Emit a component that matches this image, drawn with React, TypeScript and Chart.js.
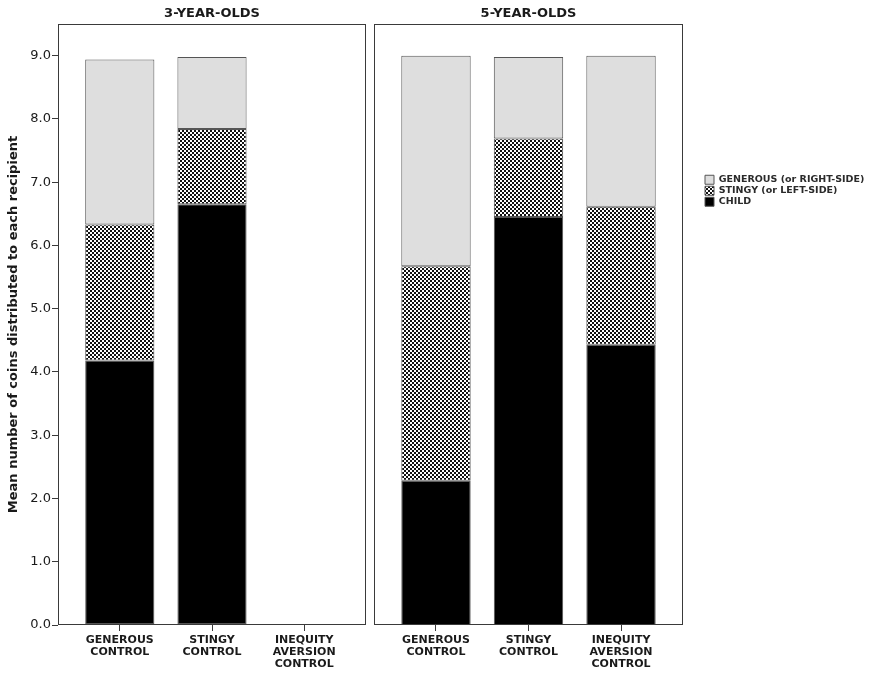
import React, { useEffect, useRef } from "react";
import { Chart, registerables } from "chart.js";

Chart.register(...registerables);
Chart.defaults.font.family = "'DejaVu Sans', sans-serif";
Chart.defaults.color = "#1a1a1a";

// categories (x positions 1..3 on a linear axis so the side padding matches the panels)
const CATEGORY_X = [1, 2, 3];
const CATEGORY_LABELS = [
  ["GENEROUS", "CONTROL"],
  ["STINGY", "CONTROL"],
  ["INEQUITY", "AVERSION", "CONTROL"],
];
const SERIES_NAMES = ["CHILD", "STINGY (or LEFT-SIDE)", "GENEROUS (or RIGHT-SIDE)"];

// 3-year-olds (no inequity aversion condition)
const CHILD_3 = [4.18, 6.65, null];
const STINGY_3 = [2.15, 1.19, null];
const GENEROUS_3 = [2.61, 1.14, null];

// 5-year-olds
const CHILD_5 = [2.28, 6.45, 4.43];
const STINGY_5 = [3.39, 1.24, 2.18];
const GENEROUS_5 = [3.33, 1.29, 2.39];

const Y_MAX = 9.5;
const Y_STEP = 1;

const INK = "#1a1a1a";
const LINE = "#3a3a3a";

function checker(): CanvasPattern | string {
  const c = document.createElement("canvas");
  c.width = 4;
  c.height = 4;
  const g = c.getContext("2d");
  if (!g) return "#777";
  g.fillStyle = "#ffffff";
  g.fillRect(0, 0, 4, 4);
  g.fillStyle = "#111111";
  g.fillRect(0, 0, 2, 2);
  g.fillRect(2, 2, 2, 2);
  return g.createPattern(c, "repeat") || "#777";
}

// frame around the plot area (both panels are boxed)
const panelFrame = {
  id: "panelFrame",
  afterDatasetsDraw(chart: any) {
    const { ctx, chartArea: a } = chart;
    ctx.save();
    ctx.strokeStyle = LINE;
    ctx.lineWidth = 1;
    ctx.strokeRect(a.left + 0.5, a.top + 0.5, a.right - a.left - 1, a.bottom - a.top - 1);
    ctx.restore();
  },
};

// put the legend box where the original has it (right of the 5-year panel)
const legendMover = {
  id: "legendMover",
  afterLayout(chart: any, _args: any, opts: any) {
    const lg = chart.legend;
    if (!lg || !opts || opts.left == null) return;
    const w = lg.width;
    const h = lg.height;
    lg.left = opts.left;
    lg.top = opts.top;
    lg.right = opts.left + w;
    lg.bottom = opts.top + h;
  },
};

type PanelProps = {
  title: string;
  child: (number | null)[];
  stingy: (number | null)[];
  generous: (number | null)[];
  width: number;
  height: number;
  showY: boolean;
  showLegend: boolean;
  pad: { left: number; right: number };
};

const Panel: React.FC<PanelProps> = ({ title, child, stingy, generous, width, height, showY, showLegend, pad }) => {
  const canvasRef = useRef<HTMLCanvasElement | null>(null);

  useEffect(() => {
    if (!canvasRef.current) return;
    const pattern = checker();
    const pts = (vals: (number | null)[]) => CATEGORY_X.map((x, i) => ({ x, y: vals[i] }));
    const common = {
      borderColor: "#555555",
      borderWidth: 1,
      borderSkipped: false as const,
      barPercentage: 0.75,
      categoryPercentage: 1,
      stack: "s",
    };

    const chart = new Chart(canvasRef.current, {
      type: "bar",
      data: {
        datasets: [
          { ...common, label: SERIES_NAMES[0], data: pts(child), backgroundColor: "#000000" },
          { ...common, label: SERIES_NAMES[1], data: pts(stingy), backgroundColor: pattern },
          { ...common, label: SERIES_NAMES[2], data: pts(generous), backgroundColor: "#dedede" },
        ] as any,
      },
      options: {
        responsive: false,
        animation: false,
        events: [],
        layout: { padding: { left: pad.left, right: pad.right, top: 0, bottom: 0 } },
        scales: {
          x: {
            type: "linear",
            stacked: true,
            offset: false,
            min: 0.33,
            max: 3.67,
            border: { display: false },
            grid: { display: true, offset: false, drawOnChartArea: false, drawTicks: true, tickLength: 6, color: LINE },
            ticks: {
              stepSize: 1,
              includeBounds: false,
              autoSkip: false,
              maxRotation: 0,
              padding: 3,
              color: INK,
              font: { size: 11, weight: "bold", lineHeight: 1.1 },
              callback: (v: any) => CATEGORY_LABELS[Number(v) - 1] || "",
            },
            afterFit: (s: any) => {
              s.height = 48;
            },
          },
          y: {
            stacked: true,
            display: showY,
            min: 0,
            max: Y_MAX,
            border: { display: false },
            grid: { display: true, drawOnChartArea: false, drawTicks: true, tickLength: 6, color: LINE },
            ticks: {
              stepSize: Y_STEP,
              includeBounds: false,
              padding: 1,
              color: INK,
              font: { size: 13 },
              callback: (v: any) => Number(v).toFixed(1),
            },
            title: {
              display: true,
              text: "Mean number of coins distributed to each recipient",
              color: INK,
              font: { size: 13, weight: "bold", lineHeight: 1.2 },
              padding: { top: 6, bottom: 0 },
            },
            afterFit: (s: any) => {
              s.width = showY ? 58 : 0;
            },
          },
        },
        plugins: {
          title: {
            display: true,
            text: title,
            fullSize: false,
            color: INK,
            font: { size: 13, weight: "bold", lineHeight: 1.2 },
            padding: { top: 6, bottom: 2.4 },
          },
          legend: {
            display: showLegend,
            position: "chartArea",
            align: "start",
            reverse: true,
            labels: {
              boxWidth: 9,
              boxHeight: 9,
              padding: 1.5,
              color: "#2a2a2a",
              font: { size: 9.5, weight: "bold" },
            },
          },
          tooltip: { enabled: false },
          legendMover: showLegend ? { left: 333.5, top: 173.5 } : {},
        } as any,
      },
      plugins: [panelFrame, legendMover],
    });

    return () => {
      chart.destroy();
    };
  }, []);

  return <canvas ref={canvasRef} width={width} height={height} style={{ width, height, display: "block" }} />;
};

export default function App() {
  return (
    <div style={{ position: "fixed", left: 0, top: 0, width: 872, height: 673, background: "#fff" }}>
      <div style={{ position: "absolute", left: 0, top: 0 }}>
        <Panel
          title="3-YEAR-OLDS"
          child={CHILD_3}
          stingy={STINGY_3}
          generous={GENEROUS_3}
          width={370}
          height={673}
          showY={true}
          showLegend={false}
          pad={{ left: 0, right: 4 }}
        />
      </div>
      <div style={{ position: "absolute", left: 370, top: 0 }}>
        <Panel
          title="5-YEAR-OLDS"
          child={CHILD_5}
          stingy={STINGY_5}
          generous={GENEROUS_5}
          width={502}
          height={673}
          showY={false}
          showLegend={true}
          pad={{ left: 4, right: 189 }}
        />
      </div>
    </div>
  );
}
